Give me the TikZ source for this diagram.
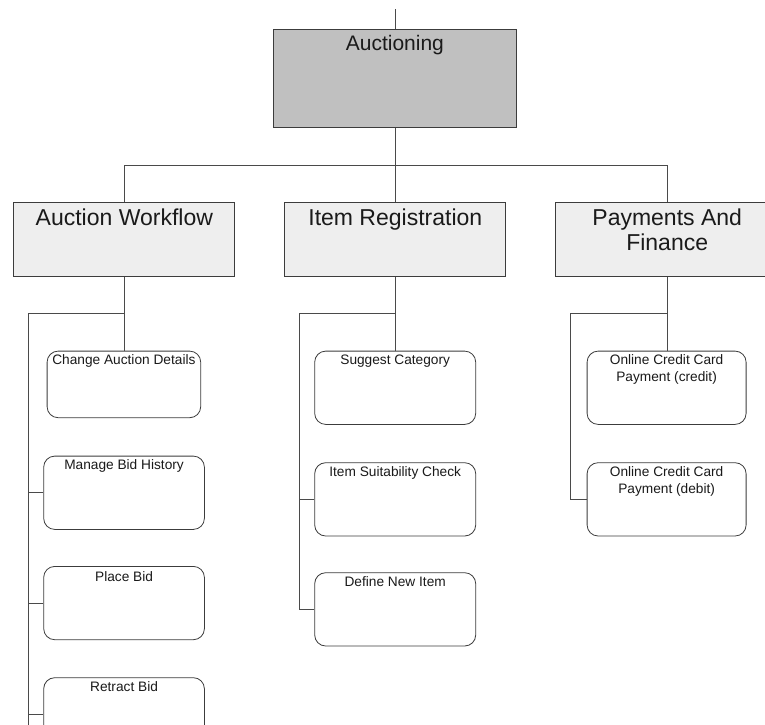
\documentclass[tikz,border=0pt]{standalone}
\usepackage{fontspec}
\setmainfont{Liberation Sans}
\usetikzlibrary{calc}
\definecolor{edgegray}{HTML}{3C3C3C}
\definecolor{wiregray}{HTML}{4A4A4A}
\definecolor{rootfill}{HTML}{C0C0C0}
\definecolor{groupfill}{HTML}{EEEEEE}
\definecolor{inkgray}{HTML}{1A1A1A}
\tikzset{
  rootbox/.style={draw=edgegray, fill=rootfill, line width=1pt, anchor=north west, inner sep=0pt},
  groupbox/.style={draw=edgegray, fill=groupfill, line width=1pt, anchor=north west, inner sep=0pt},
  taskbox/.style={draw=edgegray, fill=white, line width=0.8pt, rounded corners=11pt, anchor=north west, inner sep=0pt},
  roottext/.style={anchor=base, inner sep=0pt, text=inkgray, font=\fontsize{21}{25}\selectfont},
  grouptext/.style={anchor=base, inner sep=0pt, text=inkgray, font=\fontsize{23}{25}\selectfont},
  tasktext/.style={anchor=base, inner sep=0pt, text=inkgray, font=\fontsize{13.7}{17}\selectfont},
  wire/.style={draw=wiregray, line width=1pt}
}
\begin{document}
\begin{tikzpicture}[x=1pt, y=-1pt]
\useasboundingbox (0,0) rectangle (765,724);

% root
\node[rootbox, minimum width=243.3pt, minimum height=98.3pt] (auc) at (272.7,29) {};
\node[roottext] (auct) at ($(auc.north)+(0,21)$) {Auctioning};

% second level
\node[groupbox, minimum width=221pt, minimum height=73.4pt] (aw) at (13.3,202.3) {};
\node[groupbox, minimum width=221pt, minimum height=73.4pt] (ir) at (284.3,202.3) {};
\node[groupbox, minimum width=222.8pt, minimum height=73.4pt] (pf) at (555.3,202.3) {};
\node[grouptext] (awt) at ($(aw.north)+(0,23.4)$) {Auction Workflow};
\node[grouptext] (irt) at ($(ir.north)+(0,23.4)$) {Item Registration};
\node[grouptext] (pft1) at ($(pf.north)+(0,23.4)$) {Payments And};
\node[grouptext] (pft2) at ($(pf.north)+(0,48.4)$) {Finance};

% auction workflow tasks
\node[taskbox, minimum width=153.6pt, minimum height=66.6pt] (cad) at (46.7,350.7) {};
\node[taskbox, minimum width=160.7pt, minimum height=73.3pt] (mbh) at (43.3,455.7) {};
\node[taskbox, minimum width=160.7pt, minimum height=73.3pt] (pb) at (43.3,566) {};
\node[taskbox, minimum width=160.7pt, minimum height=73.3pt] (rb) at (43.3,677.3) {};
\node[tasktext] (cadt) at ($(cad.north)+(0,13.8)$) {Change Auction Details};
\node[tasktext] (mbht) at ($(mbh.north)+(0,13.8)$) {Manage Bid History};
\node[tasktext] (pbt) at ($(pb.north)+(0,15)$) {Place Bid};
\node[tasktext] (rbt) at ($(rb.north)+(0,14.2)$) {Retract Bid};

% item registration tasks
\node[taskbox, minimum width=161pt, minimum height=73.3pt] (sc) at (314.3,350.7) {};
\node[taskbox, minimum width=161pt, minimum height=73.3pt] (isc) at (314.3,462.3) {};
\node[taskbox, minimum width=161pt, minimum height=73.3pt] (dni) at (314.3,572.3) {};
\node[tasktext] (sct) at ($(sc.north)+(0,14.2)$) {Suggest Category};
\node[tasktext] (isct) at ($(isc.north)+(0,14.2)$) {Item Suitability Check};
\node[tasktext] (dnit) at ($(dni.north)+(0,14.2)$) {Define New Item};

% payments tasks
\node[taskbox, minimum width=159pt, minimum height=73.3pt] (occ) at (586.7,350.7) {};
\node[taskbox, minimum width=159pt, minimum height=73.3pt] (ocd) at (586.7,462.3) {};
\node[tasktext] (occt1) at ($(occ.north)+(0,13.8)$) {Online Credit Card};
\node[tasktext] (occt2) at ($(occ.north)+(0,31)$) {Payment (credit)};
\node[tasktext] (ocdt1) at ($(ocd.north)+(0,13.8)$) {Online Credit Card};
\node[tasktext] (ocdt2) at ($(ocd.north)+(0,31)$) {Payment (debit)};

% free ends and branch points
\coordinate (rootin) at (395.2,9);
\coordinate (awbr) at (28.3,313.7);
\coordinate (awend) at (28.3,760);
\coordinate (irbr) at (299.3,313.7);
\coordinate (pfbr) at (570.7,313.7);

% root connectors
\draw[wire] (rootin) -- (rootin |- auc.north);
\draw[wire] (ir.north) -- (ir.north |- auc.south);
\draw[wire] (aw.north) -- ++(0,-37) -| (pf.north);

% auction workflow connectors
\draw[wire] (aw.south) -- (aw.south |- cad.north);
\draw[wire] (aw.south |- awbr) -- (awbr) -- (awend);
\draw[wire] (mbh.west) -- (mbh.west -| awbr);
\draw[wire] (pb.west) -- (pb.west -| awbr);
\draw[wire] (rb.west) -- (rb.west -| awbr);

% item registration connectors
\draw[wire] (ir.south) -- (ir.south |- sc.north);
\draw[wire] (ir.south |- irbr) -- (irbr) |- (dni.west);
\draw[wire] (isc.west) -- (isc.west -| irbr);

% payments connectors
\draw[wire] (pf.south) -- (pf.south |- occ.north);
\draw[wire] (pf.south |- pfbr) -- (pfbr) |- (ocd.west);
\end{tikzpicture}
\end{document}
